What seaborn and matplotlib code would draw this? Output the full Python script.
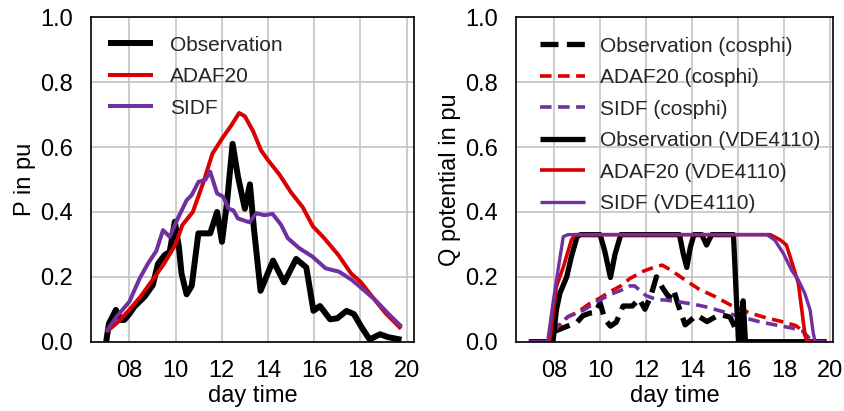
import matplotlib
matplotlib.use("Agg")
import matplotlib.pyplot as plt
import seaborn as sns
import pandas as pd

# ---- active power, left panel (hour of day, p.u.) ----
obs_t = [7.0, 7.12, 7.42, 7.64, 7.78, 8.0, 8.22, 8.66, 9.02, 9.24, 9.53, 9.75, 9.97,
         10.15, 10.26, 10.48, 10.7, 10.99, 11.5, 11.8, 12.01, 12.23, 12.47, 12.7, 13.0,
         13.22, 13.4, 13.68, 14.22, 14.7, 15.22, 15.66, 15.97, 16.25, 16.69, 17.0, 17.4,
         17.72, 18.05, 18.4, 18.85, 19.2, 19.78]
obs_p = [0.0, 0.056, 0.098, 0.067, 0.067, 0.085, 0.108, 0.139, 0.175, 0.24, 0.267, 0.277, 0.37,
         0.29, 0.21, 0.146, 0.172, 0.334, 0.334, 0.40, 0.308, 0.43, 0.61, 0.51, 0.41,
         0.485, 0.344, 0.157, 0.25, 0.183, 0.255, 0.229, 0.095, 0.11, 0.069, 0.072, 0.095,
         0.085, 0.045, 0.007, 0.023, 0.014, 0.006]

adaf_t = [7.0, 7.5, 8.0, 8.5, 9.0, 9.5, 10.0, 10.3, 10.75, 11.2, 11.6, 12.05, 12.4, 12.75,
          13.0, 13.35, 13.7, 14.0, 14.5, 15.0, 15.5, 15.95, 16.4, 17.05, 17.6, 18.0, 18.5,
          19.1, 19.76]
adaf_p = [0.03, 0.06, 0.098, 0.14, 0.19, 0.24, 0.30, 0.36, 0.40, 0.49, 0.58, 0.63, 0.665, 0.705,
          0.695, 0.65, 0.59, 0.56, 0.515, 0.46, 0.415, 0.355, 0.322, 0.267, 0.21, 0.185, 0.14,
          0.087, 0.04]

sidf_t = [7.0, 7.45, 8.0, 8.45, 8.8, 9.17, 9.46, 9.75, 10.1, 10.48, 10.7, 11.0, 11.28, 11.5,
          11.8, 12.06, 12.3, 12.5, 12.7, 13.2, 13.5, 13.84, 14.2, 14.57, 14.86, 15.36, 15.93,
          16.5, 17.07, 17.64, 18.07, 18.65, 19.2, 19.78]
sidf_p = [0.03, 0.077, 0.123, 0.195, 0.24, 0.28, 0.344, 0.323, 0.38, 0.436, 0.452, 0.493, 0.498,
          0.524, 0.457, 0.447, 0.41, 0.405, 0.38, 0.368, 0.396, 0.39, 0.394, 0.36, 0.319, 0.288,
          0.262, 0.226, 0.216, 0.19, 0.164, 0.128, 0.087, 0.046]

# ---- reactive power potential, right panel ----
q_obs_cos_t = [7.95, 8.3, 8.65, 9.0, 9.25, 9.55, 9.8, 10.0, 10.2, 10.45, 10.7, 11.0, 11.4,
               11.7, 11.95, 12.2, 12.45, 12.7, 13.0, 13.2, 13.4, 13.7, 14.2, 14.65, 15.2,
               15.65, 15.95, 16.1]
q_obs_cos = [0.03, 0.04, 0.05, 0.06, 0.08, 0.088, 0.09, 0.12, 0.07, 0.048, 0.06, 0.11, 0.11,
             0.132, 0.10, 0.14, 0.20, 0.168, 0.136, 0.16, 0.112, 0.052, 0.082, 0.062, 0.084,
             0.076, 0.031, 0.0]

q_adaf_cos_t = [7.95, 8.6, 9.0, 9.55, 10.0, 10.45, 10.9, 11.3, 11.9, 12.45, 12.7, 13.05, 13.7,
                14.3, 15.0, 15.7, 16.45, 17.2, 17.9, 18.5, 18.8, 19.05]
q_adaf_cos = [0.03, 0.077, 0.09, 0.118, 0.135, 0.155, 0.172, 0.195, 0.218, 0.232, 0.236, 0.222,
              0.19, 0.162, 0.139, 0.112, 0.09, 0.074, 0.062, 0.05, 0.034, 0.0]

q_sidf_cos_t = [7.9, 8.25, 8.6, 9.3, 9.85, 10.45, 10.9, 11.3, 11.5, 11.7, 12.0, 12.45, 12.9,
                13.5, 14.1, 14.7, 15.45, 16.15, 16.9, 17.6, 18.35, 18.8, 19.25]
q_sidf_cos = [0.03, 0.055, 0.077, 0.098, 0.123, 0.146, 0.158, 0.172, 0.172, 0.16, 0.142, 0.13,
              0.128, 0.122, 0.115, 0.106, 0.09, 0.076, 0.062, 0.052, 0.042, 0.033, 0.0]

q_obs_vde_t = [6.9, 7.95, 8.1, 8.25, 8.55, 8.75, 9.0, 9.15, 10.0, 10.2, 10.45, 10.65, 10.9,
               13.45, 13.62, 13.77, 13.92, 14.08, 14.42, 14.63, 14.85, 15.8, 15.93, 16.02,
               16.12, 16.22, 16.32, 19.85]
q_obs_vde = [0.0, 0.0, 0.098, 0.149, 0.2, 0.262, 0.324, 0.33, 0.33, 0.28, 0.198, 0.27, 0.33,
             0.33, 0.27, 0.229, 0.29, 0.33, 0.33, 0.298, 0.33, 0.33, 0.128, 0.0, 0.0, 0.126,
             0.0, 0.0]

q_adaf_vde_t = [6.9, 7.8, 8.1, 8.4, 8.75, 8.9, 17.4, 17.85, 18.1, 18.4, 18.62, 18.77, 18.9,
                19.0, 19.85]
q_adaf_vde = [0.0, 0.0, 0.17, 0.23, 0.313, 0.33, 0.33, 0.313, 0.298, 0.231, 0.18, 0.098, 0.026,
              0.0, 0.0]

q_sidf_vde_t = [6.9, 7.72, 7.97, 8.19, 8.4, 8.6, 17.25, 17.6, 17.97, 18.33, 18.62, 18.9, 19.13,
                19.27, 19.35, 19.85]
q_sidf_vde = [0.0, 0.0, 0.128, 0.23, 0.324, 0.33, 0.33, 0.313, 0.272, 0.22, 0.19, 0.149, 0.098,
              0.026, 0.0, 0.0]

hour_ticks = [8, 10, 12, 14, 16, 18, 20]
hour_labels = ["08", "10", "12", "14", "16", "18", "20"]
pu_ticks = [0.0, 0.2, 0.4, 0.6, 0.8, 1.0]

BLACK = "#000000"
RED = "#d80000"
PURPLE = "#7030a0"

sns.set_theme(style="whitegrid")
plt.rcParams["font.family"] = ["Liberation Sans", "DejaVu Sans"]
plt.rcParams.update({
    "axes.edgecolor": "black",
    "axes.linewidth": 1.2,
    "grid.color": "#c4c4c4",
    "grid.linewidth": 1.2,
})

fig = plt.figure(figsize=(8.45, 4.11), dpi=100)
ax1 = fig.add_axes([90.7 / 845, 69.3 / 411, 323.3 / 845, 324.4 / 411])
ax2 = fig.add_axes([515.7 / 845, 69.3 / 411, 317.6 / 845, 324.4 / 411])


def draw(ax, t, v, color, lw, label, dashes=None):
    df = pd.DataFrame({"t": t, "v": v})
    line_kw = dict(solid_joinstyle="round", solid_capstyle="butt")
    if dashes is not None:
        line_kw = dict(linestyle=(0, dashes), dash_capstyle="butt")
    sns.lineplot(data=df, x="t", y="v", ax=ax, color=color, linewidth=lw, label=label,
                 sort=False, estimator=None, **line_kw)


draw(ax1, obs_t, obs_p, BLACK, 4.3, "Observation")
draw(ax1, adaf_t, adaf_p, RED, 2.9, "ADAF20")
draw(ax1, sidf_t, sidf_p, PURPLE, 2.9, "SIDF")

draw(ax2, q_obs_cos_t, q_obs_cos, BLACK, 3.8, "Observation (cosphi)", dashes=(3.4, 1.6))
draw(ax2, q_adaf_cos_t, q_adaf_cos, RED, 2.6, "ADAF20 (cosphi)", dashes=(3.2, 1.8))
draw(ax2, q_sidf_cos_t, q_sidf_cos, PURPLE, 2.6, "SIDF (cosphi)", dashes=(3.2, 1.8))
draw(ax2, q_obs_vde_t, q_obs_vde, BLACK, 3.8, "Observation (VDE4110)")
draw(ax2, q_adaf_vde_t, q_adaf_vde, RED, 2.6, "ADAF20 (VDE4110)")
draw(ax2, q_sidf_vde_t, q_sidf_vde, PURPLE, 2.4, "SIDF (VDE4110)")

for ax, xmax, ylab in ((ax1, 20.32, "P in pu"), (ax2, 20.14, "Q potential in pu")):
    ax.set_xlim(6.33, xmax)
    ax.set_ylim(0, 1.0)
    ax.set_xticks(hour_ticks)
    ax.set_xticklabels(hour_labels)
    ax.set_yticks(pu_ticks)
    ax.set_yticklabels([f"{v:.1f}" for v in pu_ticks])
    ax.tick_params(axis="x", length=0, pad=13.5, labelsize=17, colors="black")
    ax.tick_params(axis="y", length=0, pad=13, labelsize=17, colors="black")
    ax.set_xlabel("day time", fontsize=17, labelpad=1.5, color="black")
    ax.set_ylabel(ylab, fontsize=17, labelpad=3, color="black")
    ax.grid(True)
    ax.set_axisbelow(True)
    for s in ax.spines.values():
        s.set_visible(True)
        s.set_color("black")

leg_kw = dict(frameon=False, fontsize=15, handlelength=2.15, borderpad=0, borderaxespad=0,
              labelspacing=0.6, loc="upper left")
ax1.legend(bbox_to_anchor=(0.054, 0.943), handletextpad=0.8, **leg_kw)
ax2.legend(bbox_to_anchor=(0.0765, 0.94), handletextpad=0.72, **leg_kw)

fig.savefig("out.png", dpi=100)
